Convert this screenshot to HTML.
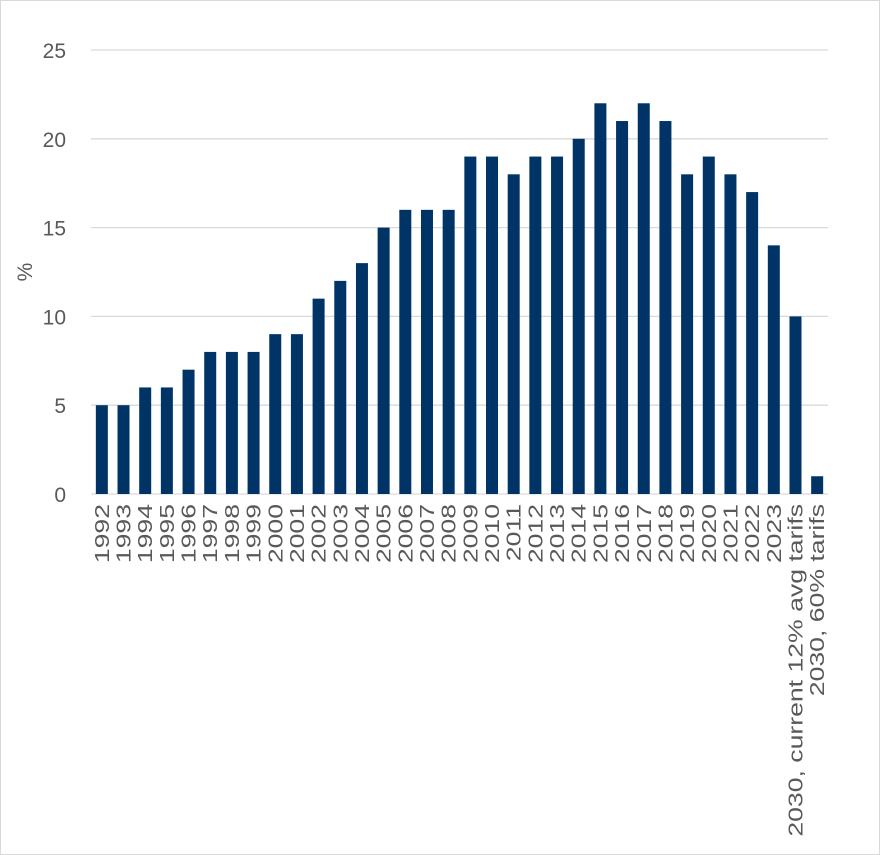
<!DOCTYPE html>
<html><head><meta charset="utf-8"><style>
body{margin:0;background:#fff}
svg{display:block;font-family:"Liberation Sans",sans-serif}
</style></head><body>
<svg id="c" width="880" height="855">
<rect x="0.5" y="0.5" width="879" height="854" fill="#fff" stroke="#d9d9d9"/>
<g id="grid"></g><g id="bars"></g><g id="xl"></g><g id="yl"></g>
<text x="32" y="272" transform="rotate(-90 32 272)" text-anchor="middle" font-size="21" fill="#595959">%</text>
</svg>
<script>
const categories=["1992","1993","1994","1995","1996","1997","1998","1999","2000","2001","2002","2003","2004","2005","2006","2007","2008","2009","2010","2011","2012","2013","2014","2015","2016","2017","2018","2019","2020","2021","2022","2023","2030, current 12% avg tarifs","2030, 60% tarifs"];
const values=[5,5,6,6,7,8,8,8,9,9,11,12,13,15,16,16,16,19,19,18,19,19,20,22,21,22,21,18,19,18,17,14,10,1];
const ticks=[0,5,10,15,20,25];
const NS="http://www.w3.org/2000/svg";
const L=91,R=828,Y0=494,Y25=50;
const y=v=>Y0-(Y0-Y25)*v/25;
const step=(R-L)/categories.length;
const x=i=>L+step*(i+0.5);
function mk(t,a,p){const e=document.createElementNS(NS,t);for(const k in a)e.setAttribute(k,a[k]);p.appendChild(e);return e;}
const g=document.getElementById('grid'),b=document.getElementById('bars'),xl=document.getElementById('xl'),yl=document.getElementById('yl');
ticks.forEach(t=>{
 const l=mk('line',{x1:L,x2:R,y1:y(t),y2:y(t),stroke:'#d9d9d9','stroke-width':1.3},g);
 
 
 const tx=mk('text',{x:66,y:y(t)+8,'text-anchor':'end','font-size':21,fill:'#595959'},yl);
 tx.textContent=t;
 
 
});
values.forEach((v,i)=>{
 const r=mk('rect',{x:x(i)-6,y:y(v),width:12,height:Y0-y(v),fill:'#003366'},b);
 
 
 const tx=mk('text',{x:0,y:0,'text-anchor':'end','font-size':20,fill:'#595959',transform:`translate(${x(i)+7},504) rotate(-90)`},xl);
 tx.textContent=categories[i];
 
 
 const len=tx.getComputedTextLength();
 tx.setAttribute('textLength',len*1.33);
 tx.setAttribute('lengthAdjust','spacingAndGlyphs');
});
</script>
</body></html>
